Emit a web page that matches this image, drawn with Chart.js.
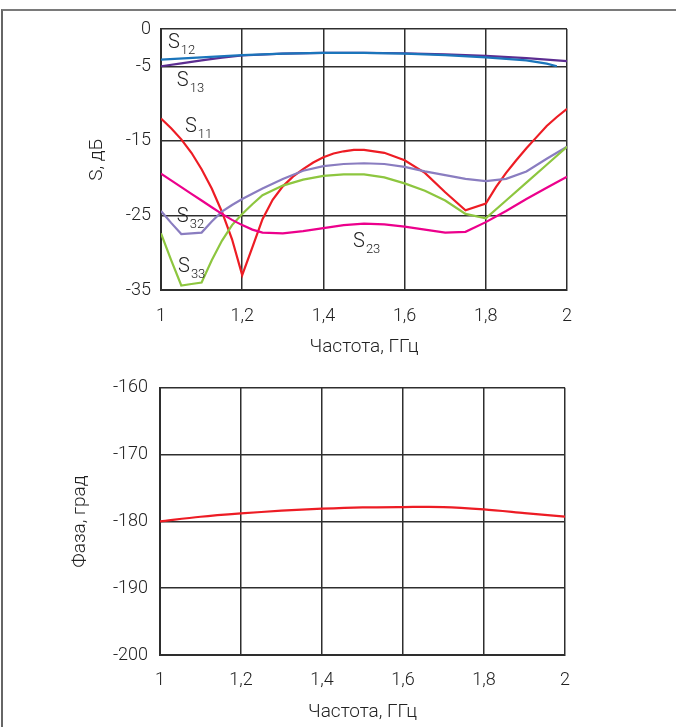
<!DOCTYPE html>
<html>
<head>
<meta charset="utf-8">
<title>S-параметры и фаза</title>
<script src="https://cdn.jsdelivr.net/npm/chart.js@4.4.0/dist/chart.umd.min.js"></script>
<style>
  html, body { margin: 0; padding: 0; background: #fff; }
  body { width: 676px; height: 727px; position: relative; overflow: hidden; }
  #frame { position: absolute; left: 1px; top: 9px; width: 700px; height: 740px;
           border-top: 2px solid #7a7a7a; border-left: 2px solid #666; }
  .box { position: absolute; left: 0; width: 676px; }
  #top-box { top: 0; height: 365px; }
  #bottom-box { top: 365px; height: 362px; }
</style>
</head>
<body>
<div id="frame"></div>
<div class="box" id="top-box"><canvas id="s-chart" width="676" height="365"></canvas></div>
<div class="box" id="bottom-box"><canvas id="phase-chart" width="676" height="362"></canvas></div>
<script>
// frequency grid, GHz
const freqS = [1.0, 1.025, 1.05, 1.075, 1.1, 1.125, 1.15, 1.175, 1.2, 1.225, 1.25, 1.3, 1.35,
               1.4, 1.45, 1.5, 1.55, 1.6, 1.65, 1.7, 1.75, 1.8, 1.85, 1.9, 1.95, 2.0];

// S-parameters, dB
const s32 = [-24.4, -26.0, -27.5, -27.4, -27.3, -25.8, -24.5, -23.6, -22.8, -22.1, -21.4, -20.1, -19.0,
             -18.4, -18.1, -18.0, -18.1, -18.5, -19.1, -19.6, -20.1, -20.4, -20.1, -19.1, -17.4, -15.8];
const s33 = [-27.4, -31.0, -34.4, -34.2, -34.0, -31.0, -28.4, -26.3, -24.8, -23.5, -22.3, -21.0, -20.2,
             -19.7, -19.5, -19.5, -19.9, -20.7, -21.7, -23.0, -24.8, -25.4, -23.0, -20.6, -18.2, -15.8];
const s23 = [-19.4, -20.3, -21.2, -22.1, -23.0, -23.9, -24.8, -25.6, -26.3, -26.9, -27.3, -27.4, -27.1,
             -26.7, -26.3, -26.1, -26.2, -26.5, -26.9, -27.3, -27.2, -25.9, -24.4, -22.8, -21.3, -19.8];

const freqS11 = [1.0, 1.025, 1.05, 1.075, 1.1, 1.125, 1.15, 1.175, 1.2, 1.225, 1.25, 1.275, 1.3,
                 1.325, 1.35, 1.375, 1.4, 1.425, 1.45, 1.475, 1.5, 1.55, 1.6, 1.65, 1.7, 1.75,
                 1.8, 1.825, 1.85, 1.875, 1.9, 1.925, 1.95, 1.975, 2.0];
const s11 = [-12.0, -13.3, -14.8, -16.6, -18.8, -21.4, -24.5, -28.2, -33.0, -29.3, -25.5, -22.9, -21.1,
             -19.8, -18.8, -17.9, -17.2, -16.7, -16.4, -16.2, -16.2, -16.6, -17.6, -19.3, -21.9, -24.3,
             -23.4, -21.2, -19.3, -17.6, -16.0, -14.5, -13.0, -11.8, -10.7];

const freqS12 = [1.0, 1.1, 1.2, 1.3, 1.4, 1.5, 1.6, 1.7, 1.8, 1.9, 1.95, 1.975];
const s12 = [-4.1, -3.8, -3.5, -3.3, -3.2, -3.2, -3.3, -3.5, -3.8, -4.2, -4.65, -5.0];

const freqS13 = [1.0, 1.05, 1.1, 1.15, 1.2, 1.3, 1.4, 1.5, 1.6, 1.7, 1.8, 1.9, 2.0];
const s13 = [-5.0, -4.6, -4.2, -3.85, -3.55, -3.3, -3.2, -3.2, -3.25, -3.4, -3.6, -3.9, -4.3];

// transmission phase, degrees
const freqPhase = [1.0, 1.1, 1.2, 1.3, 1.4, 1.5, 1.6, 1.7, 1.8, 1.9, 2.0];
const phase = [-180.0, -179.3, -178.8, -178.4, -178.1, -177.9, -177.85, -177.85, -178.2, -178.75, -179.3];

// tick values
const freqTicks = [1, 1.2, 1.4, 1.6, 1.8, 2];
const sTicks = [0, -5, -15, -25, -35];
const phaseTicks = [-160, -170, -180, -190, -200];

// curve names and where they sit (data units)
const curveNames = [
  { sub: '12', x: 1.017, y: -2.55 },
  { sub: '13', x: 1.039, y: -7.6 },
  { sub: '11', x: 1.059, y: -13.8 },
  { sub: '32', x: 1.039, y: -25.9 },
  { sub: '33', x: 1.042, y: -32.6 },
  { sub: '23', x: 1.473, y: -29.2 }
];

const FONT = 'Roboto';
const TEXT = '#222';
const GRID = '#2e2e2e';

function pts(xs, ys) {
  return xs.map((x, i) => ({ x: x, y: ys[i] }));
}

function line(data, color) {
  return { data: data, borderColor: color, borderWidth: 2.2, pointRadius: 0, tension: 0, fill: false };
}

// S with subscript drawn next to each curve
const subscriptLabels = {
  id: 'subscriptLabels',
  afterDatasetsDraw(chart, args, opts) {
    const items = opts.items || [];
    const ctx = chart.ctx;
    ctx.save();
    ctx.fillStyle = TEXT;
    ctx.textBaseline = 'alphabetic';
    ctx.textAlign = 'left';
    items.forEach(it => {
      const px = chart.scales.x.getPixelForValue(it.x);
      const py = chart.scales.y.getPixelForValue(it.y);
      ctx.font = '300 20px ' + FONT;
      ctx.fillText('S', px, py);
      const w = ctx.measureText('S').width;
      ctx.font = '300 13px ' + FONT;
      ctx.fillText(it.sub, px + w + 1, py + 6);
    });
    ctx.restore();
  }
};

function axes(cfg) {
  return {
    x: {
      type: 'linear', min: 1, max: 2,
      afterBuildTicks: s => { s.ticks = freqTicks.map(v => ({ value: v })); },
      afterFit: s => { s.height = cfg.xHeight; },
      grid: { color: GRID, lineWidth: 1.5, drawTicks: false },
      border: { color: GRID, width: 2 },
      ticks: {
        padding: cfg.xPad, color: TEXT, maxRotation: 0,
        font: { family: FONT, size: 18, weight: 300 },
        callback: v => String(Math.round(v * 10) / 10).replace('.', ',')
      },
      title: {
        display: true, text: 'Частота, ГГц', color: TEXT,
        font: { family: FONT, size: 19, weight: 300 },
        padding: { top: 0, bottom: cfg.xTitlePad }
      }
    },
    y: {
      type: 'linear', min: cfg.yMin, max: cfg.yMax,
      afterBuildTicks: s => { s.ticks = cfg.yTicks.map(v => ({ value: v })); },
      afterFit: s => { s.width = cfg.yWidth; },
      grid: { color: GRID, lineWidth: 1.5, drawTicks: false },
      border: { color: GRID, width: 2 },
      ticks: {
        padding: cfg.yPad, color: TEXT,
        font: { family: FONT, size: 18, weight: 300 },
        callback: v => String(v)
      },
      title: {
        display: true, text: cfg.yTitle, color: TEXT,
        font: { family: FONT, size: 19, weight: 300 },
        padding: { top: cfg.yTitlePad, bottom: 0 }
      }
    }
  };
}

new Chart(document.getElementById('s-chart'), {
  type: 'line',
  data: {
    datasets: [
      line(pts(freqS, s23), '#ec008c'),
      line(pts(freqS, s33), '#8dc63f'),
      line(pts(freqS, s32), '#8a7dc0'),
      line(pts(freqS11, s11), '#ed1c24'),
      line(pts(freqS12, s12), '#1b75bb'),
      line(pts(freqS13, s13), '#5c2d91')
    ]
  },
  options: {
    responsive: false,
    animation: false,
    layout: { padding: { left: 0, top: 29, right: 109, bottom: 0 } },
    plugins: {
      legend: { display: false },
      tooltip: { enabled: false },
      subscriptLabels: { items: curveNames }
    },
    scales: axes({
      yMin: -35, yMax: 0, yTicks: sTicks, yTitle: 'S, дБ',
      xHeight: 75, yWidth: 161, xPad: 16, yPad: 10, xTitlePad: 6, yTitlePad: 86
    })
  },
  plugins: [subscriptLabels]
});

new Chart(document.getElementById('phase-chart'), {
  type: 'line',
  data: {
    datasets: [
      Object.assign(line(pts(freqPhase, phase), '#ed1c24'), { tension: 0.3 })
    ]
  },
  options: {
    responsive: false,
    animation: false,
    layout: { padding: { left: 0, top: 18, right: 111, bottom: 0 } },
    plugins: {
      legend: { display: false },
      tooltip: { enabled: false }
    },
    scales: axes({
      yMin: -200, yMax: -160, yTicks: phaseTicks, yTitle: 'Фаза, град',
      xHeight: 72, yWidth: 160, xPad: 15, yPad: 12, xTitlePad: 3, yTitlePad: 69
    })
  }
});
</script>
</body>
</html>
